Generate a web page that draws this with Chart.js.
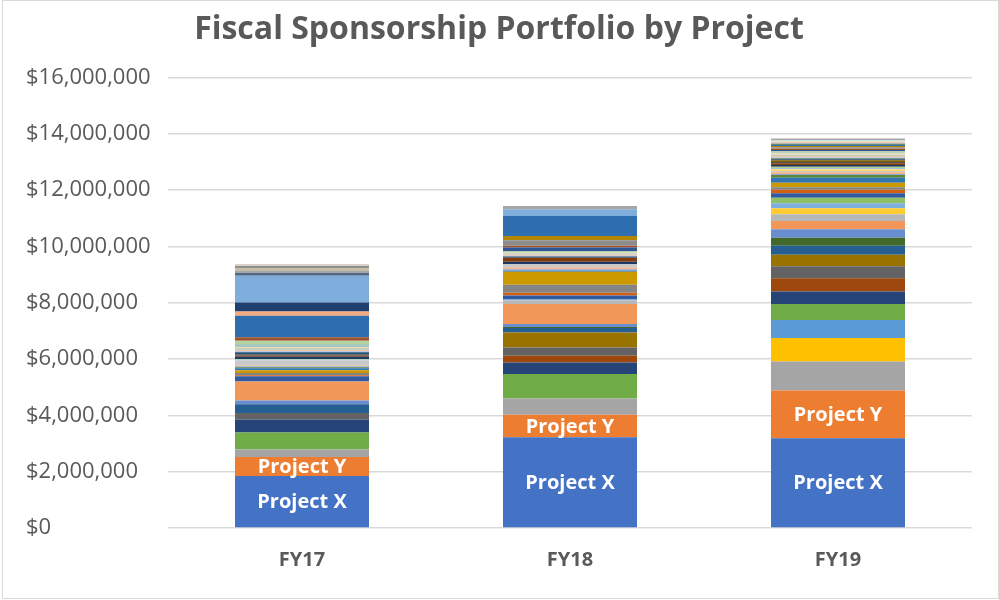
<!DOCTYPE html>
<html>
<head>
<meta charset="utf-8">
<style>
  html, body { margin: 0; padding: 0; background: #ffffff; }
  #wrap { width: 999px; height: 600px; position: relative; }
</style>
<script src="https://cdn.jsdelivr.net/npm/chart.js@4.4.1/dist/chart.umd.min.js"></script>
</head>
<body>
<div id="wrap"><canvas id="c" width="999" height="600"></canvas></div>
<script>
// ---- Data (values in $ millions) ----
const categories = ["FY17", "FY18", "FY19"];
const chartTitle = "Fiscal Sponsorship Portfolio by Project";
const tickValues = [0, 2, 4, 6, 8, 10, 12, 14, 16];

const projectNames = [
  "Project X", "Project Y", "Project 3", "Project 4", "Project 5", "Project 6",
  "Project 7", "Project 8", "Project 9", "Project 10", "Project 11", "Project 12",
  "Project 13", "Project 14", "Project 15", "Project 16", "Project 17", "Project 18",
  "Project 19", "Project 20", "Project 21", "Project 22", "Project 23", "Project 24",
  "Project 25", "Project 26", "Project 27", "Project 28", "Project 29", "Project 30",
  "Project 31", "Project 32", "Project 33", "Project 34", "Project 35", "Project 36",
  "Project 37", "Project 38", "Project 39", "Project 40", "Project 41", "Project 42",
  "Project 43", "Project 44", "Project 45", "Project 46", "Project 47", "Project 48",
  "Project 49", "Project 50", "Project 51", "Project 52", "Project 53", "Project 54",
  "Project 55", "Project 56", "Project 57", "Project 58", "Project 59", "Project 60",
  "Project 61"
];

const fy17 = [
  1.85, 0.67, 0.27, 0, 0, 0.60,
  0.46, 0, 0.23, 0, 0.31, 0,
  0.14, 0.67, 0, 0, 0, 0,
  0.19, 0.03, 0.08, 0.10, 0.07, 0.04,
  0.03, 0.03, 0.18, 0, 0.02, 0.03,
  0.08, 0.04, 0.05, 0, 0.07, 0,
  0.04, 0.04, 0.08, 0.03, 0.10, 0.12,
  0, 0.12, 0, 0, 0.77, 0,
  0, 0.15, 0, 0, 0, 0,
  0.32, 0.95, 0.10, 0.08, 0.08, 0.08, 0.07
];

const fy18 = [
  3.22, 0.80, 0.58, 0, 0, 0.87,
  0.41, 0.24, 0.29, 0.53, 0.16, 0.04,
  0.10, 0.71, 0.14, 0, 0.04, 0,
  0.13, 0.09, 0.29, 0.46, 0.04, 0,
  0.05, 0.06, 0.12, 0, 0, 0,
  0.08, 0.15, 0, 0, 0.04, 0,
  0.03, 0.03, 0.06, 0.02, 0.02, 0.04,
  0.12, 0.06, 0.20, 0.15, 0.71, 0,
  0, 0, 0, 0, 0, 0,
  0, 0.24, 0, 0.11, 0, 0, 0
];

const fy19 = [
  3.19, 1.69, 1.03, 0.84, 0.64, 0.56,
  0.45, 0.47, 0.42, 0.41, 0.32, 0.29,
  0.30, 0.29, 0.24, 0.21, 0.18, 0.20,
  0.16, 0.12, 0.09, 0.16, 0.18, 0.09,
  0.04, 0.06, 0.05, 0.06, 0.04, 0.05,
  0.06, 0.06, 0.05, 0.06, 0.03, 0.03,
  0.04, 0.05, 0.05, 0.05, 0.03, 0.04,
  0.04, 0.05, 0.05, 0.04, 0.05, 0.03,
  0.02, 0.03, 0.03, 0.02, 0.02, 0.02,
  0, 0, 0, 0.05, 0, 0, 0
];

// ---- Styling ----
const palette = [
  "#4472C4", "#ED7D31", "#A5A5A5", "#FFC000", "#5B9BD5", "#70AD47",
  "#264478", "#9E480E", "#636363", "#997300", "#255E91", "#43682B",
  "#698ED0", "#F1975A", "#B7B7B7", "#FFCD33", "#7CAFDD", "#8CC168",
  "#335AA1", "#D26012", "#848484", "#CC9A00", "#3275B3", "#5A8A39",
  "#8FAADC", "#F4B183", "#C9C9C9", "#FFD966", "#9DC3E6", "#A9D18E",
  "#203864", "#843C0C", "#525252", "#7F6000", "#1F4E79", "#385723",
  "#A3B8E0", "#E9C9A8", "#C6CDBE", "#E8D9A0", "#A6C8C0", "#B4D3A0",
  "#2F5597", "#A0522D", "#8C8C8C", "#B38600", "#2E6DAE", "#4E7931",
  "#A2B9E2", "#F6A97A", "#D2D2D2", "#FFE07F", "#ADCDEA", "#B8D6A3",
  "#1F3F6E", "#7FAEDD", "#556680", "#A6A6A6", "#C8B89A", "#8F8F8F", "#D9D2C8"
];

const M = 1000000;
const series = [fy17, fy18, fy19];
const datasets = projectNames.map((name, i) => ({
  label: name,
  data: series.map(s => s[i] * M),
  backgroundColor: palette[i],
  borderWidth: 0,
  categoryPercentage: 1.0,
  barPercentage: 0.5,
  stack: "s"
}));

const labelledProjects = ["Project X", "Project Y"];

const segmentLabels = {
  id: "segmentLabels",
  afterDatasetsDraw(chart) {
    const ctx = chart.ctx;
    ctx.save();
    ctx.fillStyle = "#ffffff";
    ctx.font = "bold 20px 'Open Sans'";
    ctx.textAlign = "center";
    ctx.textBaseline = "middle";
    chart.data.datasets.forEach((ds, di) => {
      if (!labelledProjects.includes(ds.label)) return;
      const meta = chart.getDatasetMeta(di);
      meta.data.forEach(el => {
        const { x, y, base } = el.getProps(["x", "y", "base"], true);
        ctx.fillText(ds.label, x, (y + base) / 2 + 1);
      });
    });
    ctx.restore();
  }
};

const frame = {
  id: "frame",
  beforeDraw(chart) {
    const ctx = chart.ctx;
    ctx.save();
    ctx.strokeStyle = "#d9d9d9";
    ctx.lineWidth = 1;
    ctx.strokeRect(2.5, 0.5, chart.width - 3, chart.height - 2);
    ctx.restore();
  }
};

new Chart(document.getElementById("c"), {
  type: "bar",
  data: { labels: categories, datasets },
  plugins: [segmentLabels, frame],
  options: {
    responsive: false,
    animation: false,
    layout: { padding: { left: 26, right: 27, top: 0, bottom: 16 } },
    plugins: {
      legend: { display: false },
      tooltip: { enabled: false },
      title: {
        display: true,
        text: chartTitle,
        color: "#595959",
        font: { family: "'Open Sans'", size: 32, weight: "bold" },
        padding: { top: 11, bottom: 28 }
      }
    },
    scales: {
      x: {
        stacked: true,
        grid: { display: false },
        border: { display: false },
        ticks: {
          color: "#595959",
          font: { family: "'Open Sans'", size: 20, weight: "bold" },
          padding: 12
        }
      },
      y: {
        stacked: true,
        min: 0,
        max: 16 * M,
        afterBuildTicks(scale) {
          scale.ticks = tickValues.map(v => ({ value: v * M }));
        },
        afterFit(scale) { scale.width = 142; },
        grid: { color: "#d9d9d9", lineWidth: 1.5, drawTicks: false },
        border: { display: false },
        ticks: {
          color: "#595959",
          crossAlign: "far",
          padding: 10,
          font: { family: "'Open Sans'", size: 22 },
          callback: v => "$" + Math.round(v).toLocaleString("en-US")
        }
      }
    }
  }
});
</script>
</body>
</html>
